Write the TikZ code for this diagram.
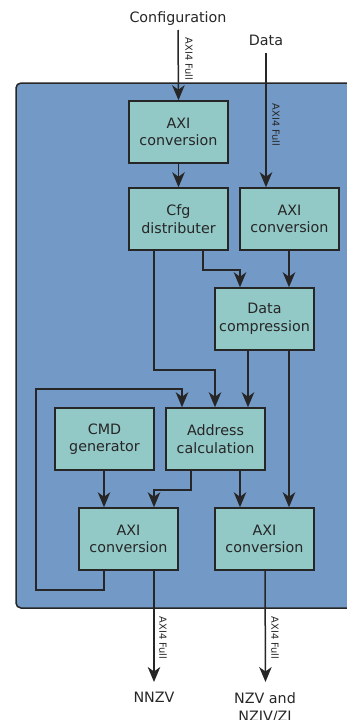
\documentclass[tikz,border=0pt]{standalone}
\usepackage{fontspec}
\setmainfont{DejaVu Sans}
\usetikzlibrary{arrows.meta}
\definecolor{outerblue}{HTML}{7399C6}
\definecolor{boxteal}{HTML}{92C8C6}
\definecolor{linecol}{HTML}{262626}
\begin{document}
\begin{tikzpicture}[x=1pt,y=-1pt,
  blk/.style={draw=linecol, fill=boxteal, line width=1.5pt, minimum width=99pt, minimum height=62pt,
    align=center, inner sep=0pt, text=linecol, font=\fontsize{14.3}{17.5}\selectfont},
  conn/.style={draw=linecol, line width=1.5pt, -{Stealth[length=15pt,width=12.5pt,inset=4.5pt]}},
  lab/.style={inner sep=0pt, text=linecol, align=center, font=\fontsize{14.3}{18}\selectfont},
  bus/.style={inner sep=0pt, rotate=-90, text=linecol, font=\fontsize{9.8}{10}\selectfont}]
\path[use as bounding box] (0,0) rectangle (347,720);
% outer block
\draw[fill=outerblue, draw=linecol, line width=1.5pt, rounded corners=5pt] (16,83) rectangle (372,608);
% blocks
\node[blk] (axit)  at (178.5,132) {AXI\\conversion};
\node[blk] (cfg)   at (178.5,219) {Cfg\\distributer};
\node[blk] (axir)  at (289.5,219) {AXI\\conversion};
\node[blk] (dc)    at (264.5,319) {Data\\compression};
\node[blk] (cmd)   at (104.5,439) {CMD\\generator};
\node[blk] (addr)  at (215.5,439) {Address\\calculation};
\node[blk] (axibl) at (128.5,539) {AXI\\conversion};
\node[blk] (axibr) at (264.5,539) {AXI\\conversion};
% external labels
\node[lab, anchor=base] (cfgin) at (178,22) {Configuration};
\node[lab, anchor=base] (datain) at (266,45.5) {Data};
\node[lab, anchor=north] (nnzv) at (154,692) {NNZV};
\node[lab, anchor=north] (nzv) at (265,692) {NZV and\\NZIV/ZI};
\coordinate (fbcorner) at (36,389);
% inputs
\draw[conn] ([yshift=-8pt]cfgin.base) -- (axit.north);
\draw[conn] ([yshift=-7.5pt]datain.base) -- (datain.base |- axir.north);
\node[bus] (bus1) at (189,59) {AXI4 Full};
\node[bus] (bus2) at (276,125) {AXI4 Full};
% internal
\draw[conn] (axit.south) -- (cfg.north);
\draw[conn] ([xshift=24.5pt]cfg.south) -- ++(0,19) -| ([xshift=-24.5pt]dc.north);
\draw[conn] ([xshift=-0.5pt]axir.south) -- ([xshift=-0.5pt]axir.south |- dc.north);
\draw[conn] ([xshift=-24.5pt]cfg.south) -- ++(0,119) -| ([xshift=-0.5pt]addr.north);
\draw[conn] ([xshift=-16.5pt]dc.south) -- ([xshift=-16.5pt]dc.south |- addr.north);
\draw[conn] ([xshift=-24.5pt]axibl.south) -- ++(0,19) -| (fbcorner) -| ([xshift=-33.5pt]addr.north);
\draw[conn] ([xshift=-0.5pt]cmd.south) -- ([xshift=-0.5pt]cmd.south |- axibl.north);
\draw[conn] ([xshift=-24.5pt]addr.south) -- ++(0,19) -| ([xshift=25.5pt]axibl.north);
\draw[conn] ([xshift=24.5pt]addr.south) -- ([xshift=24.5pt]addr.south |- axibr.north);
\draw[conn] ([xshift=24.5pt]dc.south) -- ([xshift=24.5pt]dc.south |- axibr.north);
% outputs
\draw[conn] ([xshift=25.5pt]axibl.south) -- ([yshift=10pt]nnzv.north);
\draw[conn] ([xshift=0.5pt]axibr.south) -- ([xshift=0.5pt, yshift=10pt]nzv.north);
\node[bus] (bus3) at (163,638) {AXI4 Full};
\node[bus] (bus4) at (275,638) {AXI4 Full};
\end{tikzpicture}
\end{document}
